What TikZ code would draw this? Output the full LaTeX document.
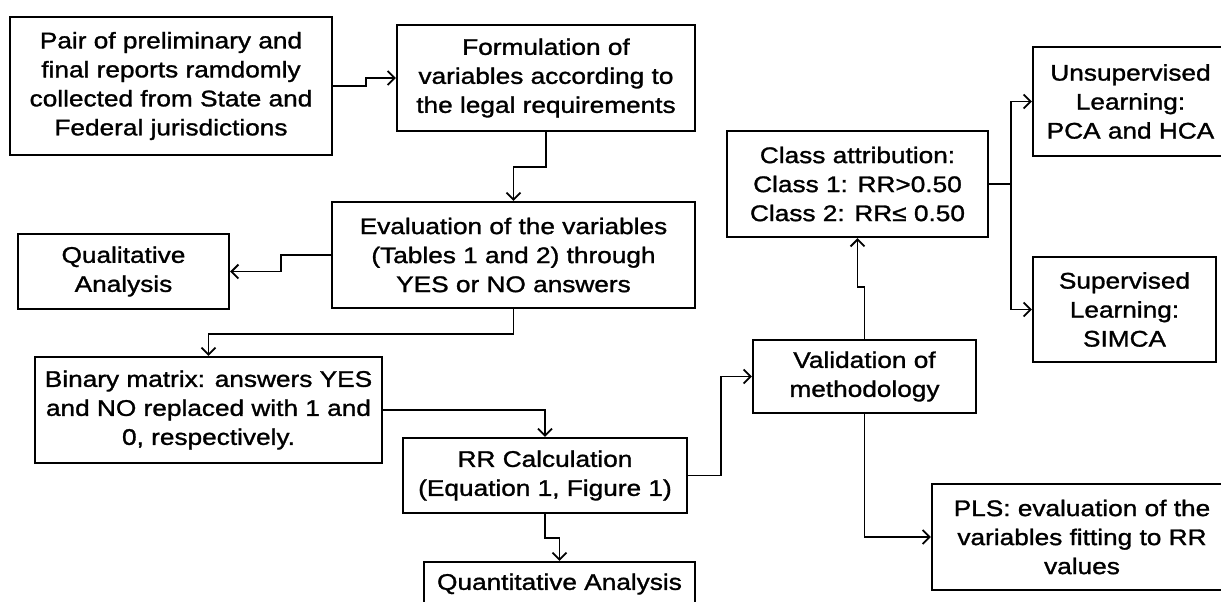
\documentclass[tikz,border=0pt]{standalone}
\usepackage{fontspec}
\setmainfont[FakeStretch=1.16,FakeBold=1.3]{Liberation Sans}
\usetikzlibrary{arrows.meta,positioning,calc}

\begin{document}
\begin{tikzpicture}[
    x=0.5pt, y=-0.5pt,
    box/.style={rectangle, draw=black, line width=1.2pt, fill=white, align=center,
                inner sep=0pt, font=\fontsize{11.3}{14.5}\selectfont},
    arrow/.style={->, >={Straight Barb[length=3.5pt,width=7pt]}, line width=0.9pt}
]
\useasboundingbox (0,0) rectangle (1221,601);

% Collection and formulation
\node[box, minimum width=161pt, minimum height=69pt] (pair) at (171,86)
    {Pair of preliminary and\\final reports ramdomly\\collected from State and\\Federal jurisdictions};
\node[box, minimum width=149pt, minimum height=53pt] (formul) at (546,78)
    {Formulation of\\variables according to\\the legal requirements};
\node[box, minimum width=181.5pt, minimum height=53pt] (eval) at (513.5,255)
    {Evaluation of the variables\\(Tables 1 and 2) through\\YES or NO answers};
\node[box, minimum width=105.5pt, minimum height=37.5pt] (qual) at (123.5,271.5)
    {Qualitative\\Analysis};

% Binary matrix and RR
\node[box, minimum width=173.5pt, minimum height=53pt] (binary) at (208.5,410)
    {Binary matrix: answers YES\\and NO replaced with 1 and\\0, respectively.};
\node[box, minimum width=142pt, minimum height=37.5pt] (rr) at (545,475.5)
    {RR Calculation\\(Equation 1, Figure 1)};
\node[box, minimum width=135.5pt, minimum height=22pt] (quant) at (559.5,584)
    {Quantitative Analysis};

% Validation and learning
\node[box, minimum width=111.5pt, minimum height=36.5pt] (valid) at (864.5,376.5)
    {Validation of\\methodology};
\node[box, minimum width=130.5pt, minimum height=53pt] (class) at (857.5,184)
    {Class attribution:\\Class 1: RR>0.50\\Class 2: RR≤ 0.50};
\node[box, minimum width=97.5pt, minimum height=54.5pt] (unsup) at (1130.5,101.5)
    {Unsupervised\\Learning:\\PCA and HCA};
\node[box, minimum width=91.5pt, minimum height=52.5pt] (sup) at (1124.5,309.5)
    {Supervised\\Learning:\\SIMCA};
\node[box, minimum width=150pt, minimum height=53pt] (pls) at (1082,537)
    {PLS: evaluation of the\\variables fitting to RR\\values};

% Connectors
\draw[arrow] (pair.east) -- ++(33,0) |- (formul.west);
\draw[arrow] (formul.south) -- ++(0,35) -| (eval.north);
\draw[arrow] (eval.west) -- ++(-50,0) |- (qual.east);
\draw[arrow] (eval.south) -- ++(0,25) -| (binary.north);
\draw[arrow] (binary.east) -| (rr.north);
\draw[arrow] (rr.south) -- ++(0,24) -| (quant.north);
\draw[arrow] (rr.east) -- ++(33,0) |- (valid.west);
\draw[arrow] (valid.north) -- ++(0,-52) -| (class.south);
\draw[arrow] (valid.south) |- (pls.west);
\draw[line width=0.9pt] (class.east) -- ++(22,0) coordinate (fork);
\draw[arrow] (fork) |- (unsup.west);
\draw[arrow] (fork) |- (sup.west);

\end{tikzpicture}
\end{document}
